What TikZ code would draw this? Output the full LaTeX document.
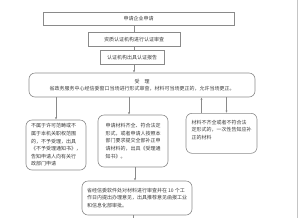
\documentclass[tikz,border=0pt]{standalone}
\usepackage{fontspec}
\usepackage{xcolor}
\setmainfont{Noto Sans CJK SC}
\usetikzlibrary{arrows.meta, positioning}
\definecolor{edgegray}{HTML}{8A8A8A}
\definecolor{inkgray}{HTML}{3A3A3A}

\begin{document}
\begin{tikzpicture}[
x=1pt, y=-1pt,
box/.style={draw=edgegray, line width=0.6pt, inner sep=1pt, align=center, text=inkgray},
rbox/.style={box, rounded corners=6pt, align=left, inner sep=3pt},
arr/.style={-{Latex[length=2.4pt, width=2.2pt]}, edgegray, line width=0.5pt},
lin/.style={edgegray, line width=0.5pt},
every node/.style={font=\fontsize{5}{7.6}\selectfont}
]
\useasboundingbox (0,0) rectangle (299,218);
\draw[edgegray!50, line width=0.5pt] (297,0) -- (297,218);
\node[box, minimum width=191pt, minimum height=13pt] (apply) at (138.5,18.5) {申请企业申请};
\node[box, minimum width=92pt, minimum height=14pt] (review) at (134,39.5) {资质认证机构进行认证审查};
\node[box, minimum width=64pt, minimum height=14pt] (report) at (132,57.5) {认证机构出具认证报告};
\node[rbox, minimum width=226pt, minimum height=24pt, align=center] (accept) at (142,85)
  {受\quad 理\\[-1pt]省政务服务中心经信委窗口当场进行形式审查，材料可当场更正的，允许当场更正。};
\node[rbox, minimum width=60pt, minimum height=50pt] (reject) at (56,145)
  {不属于许可范畴或不\\属于本机关职权范围\\的，不予受理，出具\\《不予受理通知书》，\\告知申请人向有关行\\政部门申请};
\node[rbox, minimum width=70pt, minimum height=52pt] (admit) at (133,141)
  {申请材料齐全、符合法定\\形式，或者申请人按照本\\部门要求提交全部补正申\\请材料的，出具《受理通\\知书》。};
\node[rbox, minimum width=71pt, minimum height=40pt, anchor=north] (amend) at (221.5,113)
  {材料不齐全或者不符合法\\定形式的，一次性告知应补\\正的材料\\ };
\node[rbox, minimum width=110pt, minimum height=34pt] (audit) at (137,198)
  {省经信委软件处对材料进行审查并在 10 个工\\作日内提出办理意见，出具推荐意见函报工业\\和信息化部审批。};
% connector anchors
\coordinate (reportout) at ([xshift=2pt]report.south);
\coordinate (reviewin) at ([xshift=2pt]report.north);
\coordinate (admitin) at ([xshift=-4pt]admit.north);
\coordinate (amendout) at ([xshift=-20pt]amend.north);
\coordinate (amendin) at ([xshift=5pt]amend.north);
\coordinate (auditin) at ([xshift=-2pt]audit.north);
\coordinate (auditout) at ([xshift=-4pt]audit.south);
\coordinate (out) at (133,218);

\draw[lin] (apply.south -| review.north) -- (review.north);
\draw[lin] (review.south -| reviewin) -- (reviewin);
\draw[arr] (reportout) -- (accept.north -| reportout);
\draw[arr] (accept.south -| reject.north) -- (reject.north);
\draw[arr] (accept.south -| admitin) -- (admitin);
\draw[arr] (amendout) -- (accept.south -| amendout);
\draw[arr] (accept.south -| amendin) -- (amendin);
\draw[arr] (admit.south -| auditin) -- (auditin);
\draw[lin] (auditout) -- (out);
\end{tikzpicture}
\end{document}
